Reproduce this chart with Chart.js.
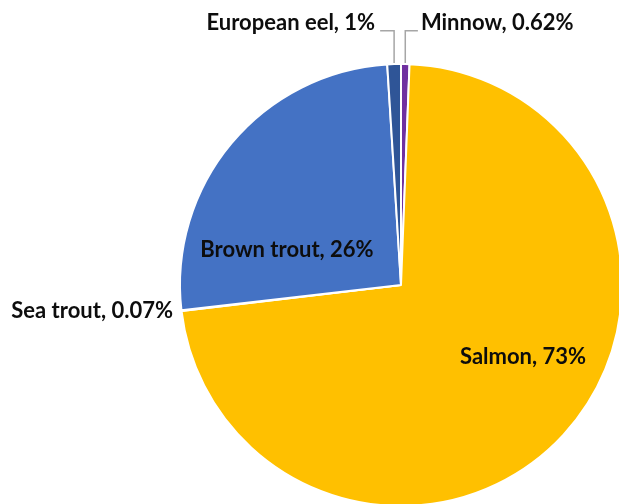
<!DOCTYPE html>
<html>
<head>
<meta charset="utf-8">
<script src="https://cdn.jsdelivr.net/npm/chart.js@4.4.0/dist/chart.umd.min.js"></script>
<style>
  body { margin: 0; background: #fff; }
  #wrap { width: 619px; height: 504px; overflow: hidden; position: relative; }
  canvas { display: block; }
</style>
</head>
<body>
<div id="wrap"><canvas id="myChart" width="700" height="600"></canvas></div>
<script>
// species share of catch, clockwise from 12 o'clock
const categories = ['Minnow', 'Salmon', 'Sea trout', 'Brown trout', 'European eel'];
const shares = [0.62, 73, 0.07, 26, 1];
const shareLabels = ['0.62%', '73%', '0.07%', '26%', '1%'];
const colors = ['#7030A0', '#FFC000', '#A5A5A5', '#4472C4', '#2F5597'];

// where each label sits, relative to the pie centre in units of radius
const labelSpots = {
    'Minnow':       { dx: 0.090,  dy: -1.187, align: 'left',   leader: true },
    'Salmon':       { dx: 0.552,  dy: 0.327,  align: 'center' },
    'Sea trout':    { dx: -1.032, dy: 0.117,  align: 'right' },
    'Brown trout':  { dx: -0.516, dy: -0.158, align: 'center' },
    'European eel': { dx: -0.117, dy: -1.187, align: 'right',  leader: true }
};

const FONT = 'bold 22px Lato';

const pieLabels = {
    id: 'pieLabels',
    afterDraw(chart) {
        const ctx = chart.ctx;
        const arcs = chart.getDatasetMeta(0).data;
        ctx.save();
        ctx.font = FONT;
        ctx.textBaseline = 'middle';
        arcs.forEach((arc, i) => {
            const name = categories[i];
            const spot = labelSpots[name];
            const r = arc.outerRadius;
            const tx = arc.x + spot.dx * r;
            const ty = arc.y + spot.dy * r;
            const text = name + ', ' + shareLabels[i];
            ctx.fillStyle = '#0D0D0D';
            ctx.textAlign = spot.align;
            ctx.fillText(text, tx, ty);

            if (spot.leader) {
                const mid = (arc.startAngle + arc.endAngle) / 2;
                const px = arc.x + Math.cos(mid) * r;
                const py = arc.y + Math.sin(mid) * r;
                const ly = ty + 8;
                const lx = spot.align === 'right' ? tx + 5 : tx - 3;
                ctx.strokeStyle = '#A6A6A6';
                ctx.lineWidth = 1.5;
                ctx.beginPath();
                ctx.moveTo(lx, ly);
                ctx.lineTo(px, ly);
                ctx.lineTo(px, py - 1);
                ctx.stroke();
            }
        });
        ctx.restore();
    }
};

const ctx = document.getElementById('myChart').getContext('2d');
const myChart = new Chart(ctx, {
    type: 'pie',
    data: {
        labels: categories,
        datasets: [{
            data: shares,
            backgroundColor: colors,
            borderColor: '#FFFFFF',
            borderWidth: 2
        }]
    },
    options: {
        responsive: false,
        animation: false,
        devicePixelRatio: 1,
        layout: { padding: { left: 179, top: 63, right: 77, bottom: 93 } },
        plugins: {
            legend: { display: false },
            tooltip: { enabled: false }
        }
    },
    plugins: [pieLabels]
});
</script>
</body>
</html>
